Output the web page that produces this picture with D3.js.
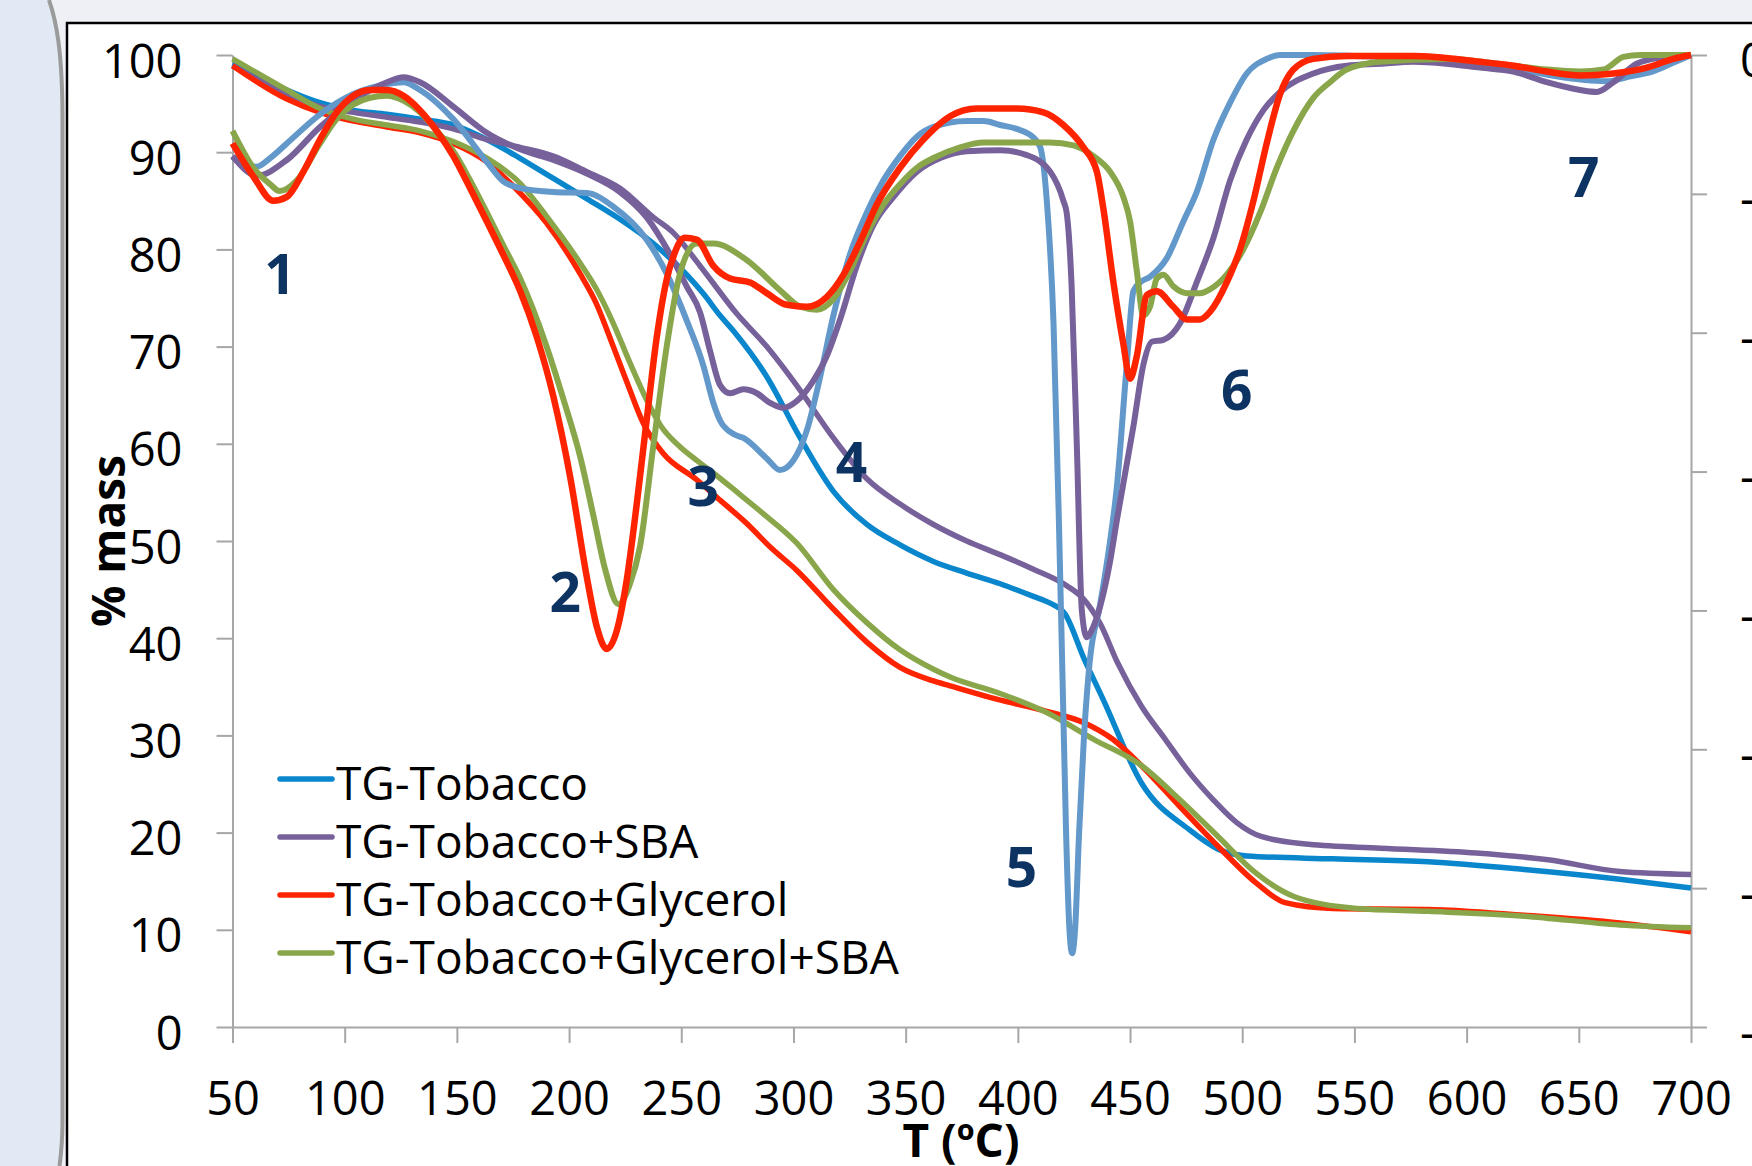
<!DOCTYPE html>
<html><head><meta charset="utf-8">
<script src="https://cdn.jsdelivr.net/npm/d3@7"></script>
<style>html,body{margin:0;padding:0;overflow:hidden;background:#eef0f5}</style>
</head><body><svg id="c" width="1752" height="1166"></svg>
<script>
// ---------- data ----------
const xTicks = [50,100,150,200,250,300,350,400,450,500,550,600,650,700];
const yTicks = [0,10,20,30,40,50,60,70,80,90,100];
const dtgTicks = [0,-10,-20,-30,-40,-50,-60,-70];

const seriesNames = ["TG-Tobacco","TG-Tobacco+SBA","TG-Tobacco+Glycerol","TG-Tobacco+Glycerol+SBA"];
const tgColors  = ["#0a86cd","#77619a","#ff2400","#8aa64b"];
const dtgColors = ["#6398cb","#77619a","#ff2400","#8aa64b"];

// TG curves: [T (°C), % mass]
const tgTobacco = [[50,99.1],[59.3,98.1],[74.2,96.4],[89,95.1],[103.9,94.3],[118.8,93.9],[133.6,93.4],[148.4,92.8],[163.3,91.3],[178,89.4],[193,87.3],[208,85.2],[222.7,83.1],[237.6,80.6],[252.4,77.4],[260,75.4],[267.3,73.2],[273.3,71.6],[288.1,66.9],[303,60.6],[317.8,55.1],[332.7,51.7],[347.5,49.6],[362.4,47.9],[377.2,46.7],[392.1,45.6],[406.9,44.3],[414.4,43.6],[421,42.5],[429.5,37.9],[438,33.7],[455.1,25.1],[476.4,20.3],[489.2,18.3],[502,17.6],[540.4,17.3],[583,17.0],[625.7,16.2],[668.3,15.2],[700,14.3]];
const tgSBA = [[50,98.9],[74.2,96.0],[89,94.7],[103.9,94.1],[118.8,93.6],[133.6,93.1],[148.4,92.4],[163.3,91.3],[178.2,90.5],[193,89.6],[207.9,88.0],[222.7,86.3],[237.6,83.3],[246.5,81.7],[258.4,78.3],[274.7,73.4],[288.1,70.0],[303,65.5],[317.8,60.6],[332.7,56.4],[347.5,53.8],[362.4,51.7],[377.2,50.0],[392,48.6],[406.9,47.1],[421.8,45.4],[429,44.1],[436.7,41.5],[444.4,37.5],[455.1,33.0],[465.7,29.6],[476.4,26.2],[487,23.4],[497.7,21.0],[508.4,19.6],[529.7,18.8],[561.7,18.4],[604.3,17.9],[636.3,17.2],[668.3,16.0],[700,15.7]];
const tgGlycerol = [[50,98.9],[74,95.5],[89,94.1],[104,93.2],[118.8,92.6],[133.6,92.0],[148.4,90.9],[163.3,89.0],[175.2,86.5],[190,82.7],[204.9,77.5],[212,74.5],[219.7,70.0],[226,66.2],[233.1,62.1],[242,59.0],[256.9,56.3],[267.3,54.2],[279.2,51.8],[290,49.3],[301.4,47.0],[317.8,43.0],[332.7,39.6],[347.5,37.0],[362.4,35.6],[369.8,35.1],[391,33.7],[412.4,32.5],[429.5,31.3],[442.3,29.6],[455,26.9],[472.1,22.7],[489.2,18.6],[506.3,14.8],[519.1,12.8],[540.4,12.2],[583,12.1],[625.7,11.5],[668.3,10.7],[700,9.8]];
const tgGlycerolSBA = [[50,99.6],[74.2,96.4],[89,94.5],[103.9,93.4],[118.8,92.8],[133.6,92.2],[148.4,91.1],[163.3,89.4],[178.2,86.8],[190,83.4],[204.9,78.6],[212,76.0],[219.7,72.4],[227,68.4],[234.6,64.5],[241,61.8],[249.4,59.7],[256.9,58.3],[264.3,57.0],[275,55.0],[286.6,52.8],[301.4,49.8],[317.8,45.0],[332.7,41.6],[347.5,38.8],[362.4,36.8],[369.8,36.0],[391,34.4],[412.4,32.4],[433.8,29.6],[455.1,26.9],[472.1,23.4],[489.2,19.6],[506.3,15.8],[523.3,13.4],[551,12.2],[583,11.9],[625.7,11.4],[668.3,10.5],[700,10.2]];

// DTG curves (secondary axis): [T (°C), DTG]
const dtgTobacco = [[50,-7.35],[55,-7.84],[60.8,-8.05],[66.8,-7.42],[74.2,-6.37],[89,-4.27],[103.9,-2.8],[118.8,-2.1],[126.2,-1.96],[133.6,-2.52],[148.4,-4.62],[163.3,-7.7],[170.7,-9.1],[178.2,-9.59],[193,-9.87],[207.9,-9.94],[219.7,-10.92],[234.6,-13.3],[243.5,-15.75],[252.4,-19.11],[259.9,-22.4],[264.3,-25.06],[267.3,-26.32],[273.3,-27.3],[277.7,-27.58],[288.1,-29.05],[294,-29.89],[300,-29.19],[306,-27.02],[311.9,-23.17],[317.8,-18.76],[325.2,-14.35],[332.7,-11.34],[340.1,-9.03],[347.5,-7.28],[355,-5.88],[362.4,-5.18],[377.2,-4.76],[384.7,-4.76],[392.1,-5.04],[399.5,-5.32],[407,-5.95],[410,-6.65],[412.9,-10.5],[415.9,-19.32],[418.3,-33.6],[420,-45.5],[421.5,-56],[423,-63],[424.2,-64.68],[425.5,-63],[427.3,-56],[429.5,-49],[432,-43.75],[436.7,-39.55],[440.5,-35.7],[444.1,-31.15],[448.5,-22.4],[451.5,-17.01],[454.5,-16.38],[459,-15.96],[466.4,-14.63],[473.8,-11.97],[479.7,-9.87],[487.2,-6.09],[494.6,-3.43],[502,-1.33],[510.9,-0.28],[516.9,0],[531.7,0],[550,-0.07],[580,-0.21],[600,-0.49],[620,-0.91],[640,-1.54],[662,-1.89],[673,-1.54],[683,-1.19],[692,-0.56],[700,0]];
const dtgSBA = [[50,-7.28],[61,-8.68],[74.2,-7.56],[89,-5.18],[103.9,-3.29],[118.8,-1.96],[126.2,-1.61],[133.6,-1.96],[148.4,-3.71],[163.3,-5.6],[178.2,-6.79],[193,-7.56],[207.9,-8.54],[222.7,-9.87],[234.6,-11.69],[245,-14.35],[252.4,-16.66],[258.4,-18.55],[262.9,-21.35],[267.3,-23.77],[271.8,-24.36],[277.7,-24.08],[283.7,-24.36],[289.6,-25.06],[295.5,-25.41],[301.5,-24.92],[308.9,-23.45],[314.8,-21.7],[320.8,-19.04],[328.2,-15.19],[335.6,-12.25],[344.6,-10.22],[355,-8.4],[365.4,-7.42],[377.2,-6.93],[392.1,-6.86],[404,-7.21],[414.4,-8.4],[420.3,-10.5],[421.8,-11.41],[423.9,-16.38],[426.3,-28.21],[428.5,-39.97],[430.7,-41.93],[432.9,-41.44],[436.7,-39.69],[441.1,-36.47],[444.1,-33.53],[451.5,-26.74],[456,-22.26],[459.7,-20.65],[464.9,-20.51],[472.3,-19.32],[479.7,-16.38],[487.2,-13.16],[494.6,-9.03],[502,-6.09],[509.4,-3.99],[516.9,-2.66],[531.7,-1.33],[546.6,-0.77],[561.4,-0.63],[576.3,-0.49],[591.1,-0.63],[606,-0.91],[620.8,-1.19],[635.7,-1.96],[650.6,-2.52],[658,-2.66],[665.4,-1.96],[675.8,-0.63],[687.7,-0.14],[700,0]];
const dtgGlycerol = [[50,-6.37],[59.3,-8.75],[68.2,-10.5],[74.2,-10.22],[81.6,-8.4],[89,-6.09],[96.4,-4.13],[103.9,-2.94],[111.3,-2.52],[118.8,-2.52],[126.2,-2.94],[133.6,-3.99],[141,-5.46],[148.4,-7.28],[155.9,-9.59],[163.3,-11.97],[170.7,-14.4],[178.2,-17.0],[185.6,-20.3],[193,-24.6],[200.5,-30.4],[207.9,-37.6],[212.4,-41.2],[216.8,-42.77],[221.3,-41.44],[225.7,-37.8],[230,-32.55],[234.6,-26.25],[239.1,-20.3],[243.5,-16.17],[247,-14.28],[251.5,-13.16],[256.9,-13.3],[264.3,-15.19],[271.8,-16.1],[280.7,-16.38],[288.1,-17.15],[297,-17.99],[306,-18.13],[314.8,-17.43],[322.3,-15.82],[329.7,-13.44],[337.1,-10.78],[347.5,-8.12],[357.9,-6.09],[369.8,-4.41],[381.7,-3.85],[399.5,-3.85],[411.4,-4.13],[420.3,-5.04],[429.2,-6.65],[435.2,-8.4],[438.1,-11.06],[442.6,-16.38],[447,-20.79],[450,-23.31],[453,-21.7],[457.5,-17.29],[461.9,-17.01],[469.3,-18.13],[475.3,-19.04],[481.2,-19.04],[485.7,-18.48],[493.1,-16.38],[499,-14],[505,-10.5],[510.9,-6.37],[516.9,-2.8],[522.8,-1.05],[531.7,-0.28],[546.6,-0.07],[576.3,-0.07],[606,-0.49],[620.8,-0.77],[635.7,-1.19],[650.6,-1.47],[665.4,-1.33],[680.3,-0.91],[692.1,-0.28],[700,0]];
const dtgGlycerolSBA = [[50,-5.46],[59.3,-8.12],[66.8,-9.31],[71,-9.8],[78.7,-9.03],[89,-6.37],[96.4,-4.62],[103.9,-3.57],[111.3,-3.08],[118.8,-2.94],[126.2,-3.29],[133.6,-4.13],[141,-5.46],[148.4,-6.93],[155.9,-9.03],[163.3,-11.34],[170.7,-13.72],[178.2,-16.1],[190,-21.0],[197.5,-24.8],[204.9,-28.9],[211,-33.3],[216,-37.0],[222,-39.55],[227,-38.15],[231.6,-35.42],[237.5,-28.21],[243.5,-21.0],[249.4,-15.75],[256.9,-13.58],[264.3,-13.58],[279.2,-14.77],[294,-16.94],[303,-18.13],[310.4,-18.34],[317.8,-17.57],[325.2,-15.54],[332.7,-12.88],[340.1,-10.78],[347.5,-9.31],[355,-8.12],[362.4,-7.42],[374.3,-6.65],[384.7,-6.3],[399.5,-6.3],[414.4,-6.3],[424.8,-6.51],[433.7,-7.28],[441.1,-8.4],[447,-10.22],[450,-11.97],[453,-15.54],[455.9,-18.76],[458.9,-18.13],[461.9,-16.1],[464.9,-15.82],[469.3,-16.66],[475.3,-17.15],[481.2,-17.15],[485.7,-16.87],[493.1,-15.82],[500.5,-14],[508,-11.34],[515.4,-8.12],[522.8,-5.46],[531.7,-3.08],[539.1,-1.96],[546.6,-1.05],[561.4,-0.49],[591.1,-0.28],[620.8,-0.77],[635.7,-1.05],[650.6,-1.19],[661,-1.05],[669.9,-0.14],[677.3,0],[700,0]];

// peak annotations
const peakLabels = ["1","2","3","4","5","6","7"];
const peakT      = [71.2,198.3,259.8,325.8,401.6,497.5,652.2];
const peakMass   = [77.5,44.8,55.7,58.1,16.5,65.5,87.4];

// ---------- drawing ----------
const svg = d3.select("#c");
const FONT = "'Open Sans', 'Noto Sans', sans-serif";

// slide background
svg.append("rect").attr("width",1752).attr("height",1166).attr("fill","#eef0f5");
const edge = "M49,0 C56,20 62.5,50 62.5,120 L62.5,1120 C62.5,1140 61,1155 59.5,1166";
svg.append("path").attr("d", edge + " L0,1166 L0,0 Z").attr("fill","#e1e9f4");
svg.append("path").attr("d", edge).attr("fill","none").attr("stroke","#9b9b9b").attr("stroke-width",4);
svg.append("rect").attr("x",67).attr("y",23).attr("width",1752).attr("height",1200)
  .attr("fill","#ffffff").attr("stroke","#000").attr("stroke-width",2.5);

const x  = d3.scaleLinear().domain([50,700]).range([232.5,1691]);
const y  = d3.scaleLinear().domain([0,100]).range([1027,55]);
const yR = d3.scaleLinear().domain([-70,0]).range([1027,55]);

function styleAxis(g){
  g.selectAll("path,line").attr("stroke","#a6a6a6").attr("stroke-width",2);
  g.selectAll("text").attr("font-family",FONT).attr("font-size",47).attr("fill","#000");
}

const gL = svg.append("g").attr("transform","translate(232.5,0)")
  .call(d3.axisLeft(y).tickValues(yTicks).tickSize(16).tickSizeOuter(0).tickPadding(34).tickFormat(d=>String(d)));
styleAxis(gL);
gL.selectAll("text").attr("dy",null).attr("y",22);

const gB = svg.append("g").attr("transform","translate(0,1027)")
  .call(d3.axisBottom(x).tickValues(xTicks).tickSize(16).tickSizeOuter(0).tickFormat(d=>String(d)));
styleAxis(gB);
gB.selectAll("text").attr("dy",null).attr("y",88);

const gR = svg.append("g").attr("transform","translate(1691,0)")
  .call(d3.axisRight(yR).tickValues(dtgTicks).tickSize(16).tickSizeOuter(0).tickFormat(d=>String(d)));
styleAxis(gR);
gR.selectAll("text").attr("dy",null).attr("x",49).attr("y",21);

// axis titles
svg.append("text").attr("x",961).attr("y",1157).attr("text-anchor","middle")
  .attr("font-family",FONT).attr("font-weight","bold").attr("font-size",46).text("T (ºC)");
svg.append("text").attr("transform","translate(125,541) rotate(-90)").attr("text-anchor","middle")
  .attr("font-family",FONT).attr("font-weight","bold").attr("font-size",46).text("% mass");

// lines
const lineTG  = d3.line().x(d=>x(d[0])).y(d=>y(d[1])).curve(d3.curveMonotoneX);
const lineDTG = d3.line().x(d=>x(d[0])).y(d=>yR(d[1])).curve(d3.curveMonotoneX);

const tgSeries  = [tgTobacco, tgSBA, tgGlycerol, tgGlycerolSBA];
const dtgSeries = [dtgTobacco, dtgSBA, dtgGlycerolSBA, dtgGlycerol];
const dtgCol    = [dtgColors[0], dtgColors[1], dtgColors[3], dtgColors[2]];

tgSeries.forEach((s,i)=>{
  svg.append("path").attr("d",lineTG(s)).attr("fill","none")
    .attr("stroke",tgColors[i]).attr("stroke-width",5.5).attr("stroke-linejoin","round");
});
dtgSeries.forEach((s,i)=>{
  svg.append("path").attr("d",lineDTG(s)).attr("fill","none")
    .attr("stroke",dtgCol[i]).attr("stroke-width",i===3?6.5:6).attr("stroke-linejoin","round");
});

// peak labels
peakLabels.forEach((t,i)=>{
  svg.append("text").attr("x",x(peakT[i])).attr("y",y(peakMass[i])+20).attr("text-anchor","middle")
    .attr("font-family",FONT).attr("font-weight","bold").attr("font-size",55).attr("fill","#0d3362").text(t);
});

// legend
const lg = svg.append("g");
seriesNames.forEach((n,i)=>{
  const ly = 779 + i*58;
  lg.append("line").attr("x1",280).attr("x2",332).attr("y1",ly).attr("y2",ly)
    .attr("stroke",tgColors[i]).attr("stroke-width",5.5).attr("stroke-linecap","round");
  lg.append("text").attr("x",336).attr("y",ly+21).attr("font-family",FONT).attr("font-size",46)
    .attr("fill","#000").text(n);
});
</script></body></html>
